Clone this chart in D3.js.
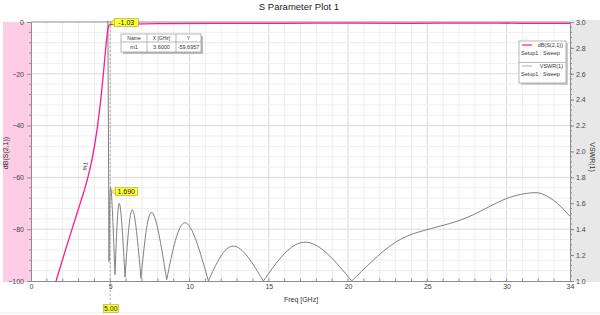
<!DOCTYPE html>
<html>
<head>
<meta charset="utf-8">
<script src="https://cdn.jsdelivr.net/npm/d3@7"></script>
<style>
  html, body { margin: 0; padding: 0; background: #fff; }
  svg { display: block; font-family: 'Liberation Sans', Arial, sans-serif; }
</style>
</head>
<body>
<div id="chart"></div>
<script>
//Datos
const s21Freq = [1.58, 2.0, 2.5, 3.0, 3.3, 3.6, 3.9, 4.2, 4.4, 4.55, 4.7, 4.8, 4.88, 4.95, 5.0, 8, 12, 16, 20, 24, 28, 31, 34];
const s21Db = [-100, -91.5, -81.7, -72, -66.2, -59.7, -51.5, -40, -30, -21, -11, -5, -1.8, -1.1, -1.03, -0.6, -0.5, -0.5, -0.4, -0.5, -0.4, -0.5, -0.5];

const vswrFreq = [4.84, 4.92, 5.03, 5.30, 5.57, 5.93, 6.39, 6.94, 7.61, 8.56, 9.72, 11.19, 12.76, 14.66, 17.29, 20.23,
                  21.5, 23, 24.5, 26, 27.5, 29, 30.3, 31.5, 32.3, 33.2, 34];
const vswrVal = [3.3, 1.15, 1.72, 1.05, 1.60, 1.03, 1.55, 1.02, 1.53, 1.01, 1.45, 1.0, 1.27, 1.0, 1.30, 1.0,
                 1.15, 1.30, 1.38, 1.43, 1.49, 1.58, 1.65, 1.68, 1.67, 1.60, 1.50];

const xTicks = [0, 5, 10, 15, 20, 25, 30, 34];
const yLeftTicks = [0, -20, -40, -60, -80, -100];
const yRightTicks = [3.0, 2.8, 2.6, 2.4, 2.2, 2.0, 1.8, 1.6, 1.4, 1.2, 1.0];

const marker = { name: 'm1', x: 3.6, y: -59.6957 };
const markerFreq = 5.0;
const markerS21 = -1.03;
const markerVswr = 1.690;

//Colores
const COLOR_S21 = '#ff1a8c',
COLOR_VSWR = '#808080',
COLOR_AXIS = '#8c8c8c';

const W = 600, H = 315;
const pLeft = 31, pRight = 570, pTop = 22, pBottom = 281;

let svg = d3.select('#chart').append('svg')
    .attr('width', W).attr('height', H);

let x = d3.scaleLinear().domain([0, 34]).range([pLeft, pRight]);
let yL = d3.scaleLinear().domain([-100, 0]).range([pBottom, pTop]);
let yR = d3.scaleLinear().domain([1, 3]).range([pBottom, pTop]);

//Bandas de los ejes
svg.append('rect').attr('x', 3).attr('y', pTop).attr('width', pLeft - 3).attr('height', pBottom - pTop + 1)
    .attr('fill', '#ffcce5');
svg.append('rect').attr('x', pRight).attr('y', pTop - 2).attr('width', W - pRight).attr('height', pBottom - pTop + 3)
    .attr('fill', '#e8e8e8');

//Titulo
svg.append('text').attr('x', 299).attr('y', 10).attr('text-anchor', 'middle')
    .attr('font-size', 9.5).attr('fill', '#222').text('S Parameter Plot 1');

//Rejilla
let grid = svg.append('g');
grid.selectAll('.vminor').data(d3.range(1, 34)).enter().append('line')
    .attr('x1', d => x(d)).attr('x2', d => x(d)).attr('y1', pTop).attr('y2', pBottom)
    .attr('stroke', d => d % 5 == 0 ? '#d9d9d9' : '#eeeeee').attr('stroke-width', 1);
grid.selectAll('.hminor').data(d3.range(-96, 0, 4)).enter().append('line')
    .attr('x1', pLeft).attr('x2', pRight).attr('y1', d => yL(d)).attr('y2', d => yL(d))
    .attr('stroke', d => d % 20 == 0 ? '#d9d9d9' : '#eeeeee').attr('stroke-width', 1);

//Ejes
let xAxis = d3.axisBottom(x).tickValues(xTicks).tickSize(0).tickFormat(d3.format('d'));
svg.append('g').attr('transform', 'translate(0,' + pBottom + ')').call(xAxis)
    .call(g => {
        g.select('.domain').attr('stroke', COLOR_AXIS);
        g.selectAll('.tick text').attr('font-size', 7).attr('fill', '#444').attr('dy', '0.6em').attr('y', 4);
    });
svg.append('g').selectAll('line').data(d3.range(1, 34)).enter().append('line')
    .attr('x1', d => x(d)).attr('x2', d => x(d)).attr('y1', pBottom).attr('y2', pBottom - 2.5)
    .attr('stroke', COLOR_AXIS);

let yAxisL = d3.axisLeft(yL).tickValues(yLeftTicks).tickSize(4).tickPadding(3);
svg.append('g').attr('transform', 'translate(' + pLeft + ',0)').call(yAxisL)
    .call(g => {
        g.select('.domain').attr('stroke', COLOR_AXIS);
        g.selectAll('.tick line').attr('stroke', COLOR_AXIS);
        g.selectAll('.tick text').attr('font-size', 7).attr('fill', '#444');
    });
svg.append('g').selectAll('line').data(d3.range(-96, 0, 4).filter(d => d % 20 != 0)).enter().append('line')
    .attr('x1', pLeft).attr('x2', pLeft - 2).attr('y1', d => yL(d)).attr('y2', d => yL(d))
    .attr('stroke', COLOR_AXIS);

let yAxisR = d3.axisRight(yR).tickValues(yRightTicks).tickSize(4).tickPadding(2).tickFormat(d3.format('.1f'));
svg.append('g').attr('transform', 'translate(' + pRight + ',0)').call(yAxisR)
    .call(g => {
        g.select('.domain').attr('stroke', COLOR_AXIS);
        g.selectAll('.tick line').attr('stroke', COLOR_AXIS);
        g.selectAll('.tick text').attr('font-size', 7).attr('fill', '#444');
    });
svg.append('g').selectAll('line').data(d3.range(1.04, 3, 0.04)).enter().append('line')
    .attr('x1', pRight).attr('x2', pRight + 2).attr('y1', d => yR(d)).attr('y2', d => yR(d))
    .attr('stroke', COLOR_AXIS);

//Borde superior
svg.append('line').attr('x1', pLeft).attr('x2', pRight).attr('y1', pTop).attr('y2', pTop)
    .attr('stroke', COLOR_AXIS);

//Titulos de ejes
svg.append('text').attr('transform', 'translate(8,153) rotate(-90)').attr('text-anchor', 'middle')
    .attr('font-size', 7).attr('fill', '#333').text('dB(S(2,1))');
svg.append('text').attr('transform', 'translate(590,157) rotate(90)').attr('text-anchor', 'middle')
    .attr('font-size', 7).attr('fill', '#333').text('VSWR(1)');
svg.append('text').attr('x', 301).attr('y', 302).attr('text-anchor', 'middle')
    .attr('font-size', 7).attr('fill', '#333').text('Freq [GHz]');

//Linea inferior
svg.append('line').attr('x1', 0).attr('x2', W).attr('y1', 313).attr('y2', 313)
    .attr('stroke', '#ececec');

//Linea del marcador en 5 GHz
svg.append('line').attr('x1', x(markerFreq)).attr('x2', x(markerFreq)).attr('y1', pTop).attr('y2', 304)
    .attr('stroke', '#b0b0b0').attr('stroke-dasharray', '2,2');

//Curvas
svg.append('clipPath').attr('id', 'clip').append('rect')
    .attr('x', pLeft).attr('y', pTop - 1).attr('width', pRight - pLeft).attr('height', pBottom - pTop + 1);
let plot = svg.append('g').attr('clip-path', 'url(#clip)');

//VSWR: arcos entre minimos
let vswrData = vswrFreq.map((f, i) => [f, vswrVal[i]]);
let cuts = [0];
vswrData.forEach((d, i) => {
    if (i > 0 && i < vswrData.length - 1 && d[1] < vswrData[i - 1][1] && d[1] < vswrData[i + 1][1]) cuts.push(i);
});
cuts.push(vswrData.length - 1);
let lineR = d3.line().x(d => x(d[0])).y(d => yR(d[1])).curve(d3.curveNatural);
for (let k = 0; k < cuts.length - 1; k++) {
    plot.append('path').datum(vswrData.slice(cuts[k], cuts[k + 1] + 1))
        .attr('d', lineR).attr('fill', 'none').attr('stroke', COLOR_VSWR).attr('stroke-width', 1);
}

let s21Data = s21Freq.map((f, i) => [f, s21Db[i]]);
let lineL = d3.line().x(d => x(d[0])).y(d => yL(d[1])).curve(d3.curveMonotoneX);
plot.append('path').datum(s21Data).attr('d', lineL)
    .attr('fill', 'none').attr('stroke', COLOR_S21).attr('stroke-width', 1.3);

//Etiqueta m1
svg.append('text')
    .attr('transform', 'translate(' + (x(marker.x) - 1) + ',' + (yL(marker.y) - 10) + ') rotate(-80)')
    .attr('text-anchor', 'middle').attr('font-size', 6).attr('fill', '#333').text(marker.name);

//Etiquetas amarillas
function yellowLabel(px, py, w, txt, pointer) {
    let g = svg.append('g');
    if (pointer) {
        g.append('path').attr('d', 'M' + px + ',' + py + 'L' + (px + 5) + ',' + (py - 3) + 'L' + (px + 5) + ',' + (py + 3) + 'Z')
            .attr('fill', '#ffff33').attr('stroke', '#999900').attr('stroke-width', 0.5);
        px += 4;
    }
    g.append('rect').attr('x', px).attr('y', py - 4).attr('width', w).attr('height', 8)
        .attr('fill', '#ffff33').attr('stroke', '#999900').attr('stroke-width', 0.5);
    g.append('text').attr('x', px + w / 2).attr('y', py + 2.5).attr('text-anchor', 'middle')
        .attr('font-size', 7).attr('fill', '#222').text(txt);
}
yellowLabel(x(markerFreq), yL(markerS21) - 2, 24, markerS21.toFixed(2), true);
yellowLabel(x(markerFreq) + 1, yR(markerVswr), 22, markerVswr.toFixed(3), true);
yellowLabel(x(markerFreq) - 7, 308.5, 15, markerFreq.toFixed(2), false);

//Tabla del marcador
let tb = svg.append('g');
tb.append('rect').attr('x', 123).attr('y', 36).attr('width', 80).attr('height', 18).attr('fill', '#bbb');
tb.append('rect').attr('x', 121).attr('y', 34).attr('width', 80).attr('height', 18)
    .attr('fill', '#fff').attr('stroke', '#999').attr('stroke-width', 0.7);
tb.append('line').attr('x1', 121).attr('x2', 201).attr('y1', 42).attr('y2', 42).attr('stroke', '#999').attr('stroke-width', 0.7);
[147, 176].forEach(cx => {
    tb.append('line').attr('x1', cx).attr('x2', cx).attr('y1', 34).attr('y2', 52).attr('stroke', '#999').attr('stroke-width', 0.7);
});
const tHead = ['Name', 'X [GHz]', 'Y'];
const tRow = [marker.name, marker.x.toFixed(4), marker.y.toFixed(4)];
const tCols = [134, 161.5, 188.5];
tHead.forEach((t, i) => tb.append('text').attr('x', tCols[i]).attr('y', 40).attr('text-anchor', 'middle')
    .attr('font-size', 5).attr('fill', '#333').text(t));
tRow.forEach((t, i) => tb.append('text').attr('x', tCols[i]).attr('y', 49).attr('text-anchor', 'middle')
    .attr('font-size', 5.5).attr('fill', '#333').text(t));

//Leyenda
let lg = svg.append('g');
lg.append('rect').attr('x', 521).attr('y', 43).attr('width', 47).attr('height', 42).attr('fill', '#ccc');
lg.append('rect').attr('x', 519).attr('y', 41).attr('width', 47).attr('height', 42)
    .attr('fill', '#fff').attr('stroke', '#999').attr('stroke-width', 0.7);
lg.append('line').attr('x1', 519).attr('x2', 566).attr('y1', 62.5).attr('y2', 62.5).attr('stroke', '#999').attr('stroke-width', 0.7);
const legendItems = [
    { label: 'dB(S(2,1))', color: COLOR_S21, y: 45 },
    { label: 'VSWR(1)', color: '#bbbbbb', y: 66 }
];
legendItems.forEach(d => {
    lg.append('line').attr('x1', 522).attr('x2', 532).attr('y1', d.y).attr('y2', d.y)
        .attr('stroke', d.color).attr('stroke-width', 1.2);
    lg.append('text').attr('x', 563).attr('y', d.y + 2).attr('text-anchor', 'end')
        .attr('font-size', 5.5).attr('fill', '#333').text(d.label);
    lg.append('text').attr('x', 521).attr('y', d.y + 9.5)
        .attr('font-size', 5.5).attr('fill', '#333').text('Setup1 : Sweep');
});
</script>
</body>
</html>
